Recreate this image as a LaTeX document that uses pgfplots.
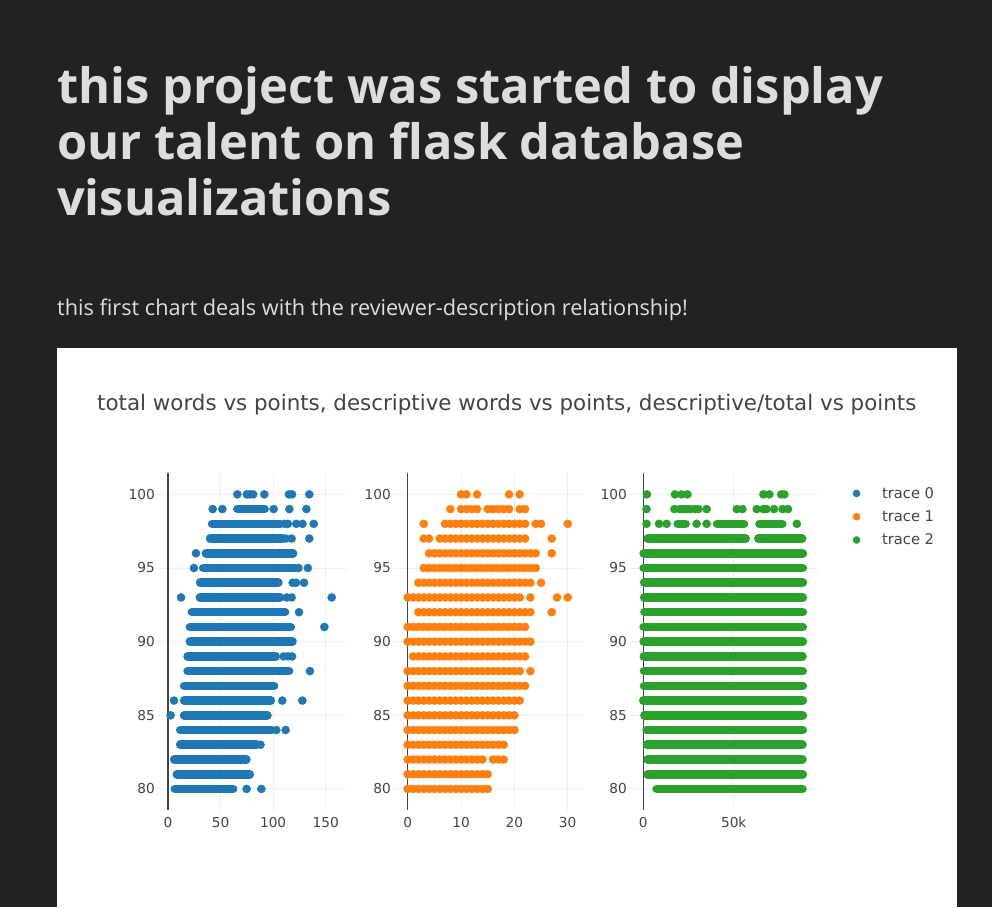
\documentclass[border=0pt]{standalone}
\usepackage{pgfplots}
\pgfplotsset{compat=1.18}
\usepackage{fontspec}
\setmainfont{DejaVu Sans}
\newfontfamily\titlefont{Open Sans}
\definecolor{bg}{HTML}{222222}
\definecolor{fg}{HTML}{DDDDDD}
\definecolor{txt}{HTML}{444444}
\definecolor{gridc}{HTML}{EEEEEE}
\definecolor{c0}{HTML}{1F77B4}
\definecolor{c1}{HTML}{FF7F0E}
\definecolor{c2}{HTML}{2CA02C}
\pgfplotsset{
  sub/.style={scale only axis, width=189pt, height=337pt, anchor=south west,
    ymin=78.57, ymax=101.45, ytick={80,85,90,95,100},
    axis line style={draw=none}, major tick length=0pt,
    grid=major, major grid style={gridc, line width=1pt},
    tick label style={font=\fontsize{13.7}{16}\selectfont, text=txt},
    yticklabel style={inner sep=0pt, xshift=-2pt},
    xticklabel style={inner sep=0pt, yshift=-7pt},
    /pgf/number format/assume math mode=true,
    scaled x ticks=false,
    unbounded coords=jump,
    extra x ticks={0},
    extra x tick labels={0},
  },
  band/.style={forget plot, line width=8.6pt, line cap=round, mark=none},
  pts/.style={forget plot, only marks, mark=*, mark size=4.1pt, mark options={line width=0.3pt}},
}
\begin{document}
\begin{tikzpicture}
\useasboundingbox (0pt,0pt) rectangle (992pt,-907pt);
\fill[bg] (0pt,0pt) rectangle (992pt,-907pt);
\node[anchor=base west, inner sep=0pt, text=fg, font=\titlefont\bfseries\fontsize{48.8}{56}\selectfont] at (57pt,-103pt) {this project was started to display};
\node[anchor=base west, inner sep=0pt, text=fg, font=\titlefont\bfseries\fontsize{48.8}{56}\selectfont] at (57pt,-159.5pt) {our talent on flask database};
\node[anchor=base west, inner sep=0pt, text=fg, font=\titlefont\bfseries\fontsize{48.8}{56}\selectfont] at (57pt,-215.7pt) {visualizations};
\node[anchor=base west, inner sep=0pt, text=fg, font=\titlefont\fontsize{21.7}{26}\selectfont] at (57pt,-315.7pt) {this first chart deals with the reviewer-description relationship!};
\fill[white] (57pt,-348pt) rectangle (957pt,-907pt);
\node[anchor=base west, inner sep=0pt, text=txt, font=\fontsize{21.4}{25}\selectfont] at (97pt,-410.7pt) {total words vs points, descriptive words vs points, descriptive/total vs points};

% ---------- subplot 1 ----------
\begin{axis}[sub, at={(157pt,-810pt)}, xmin=-10.46, xmax=169.3, xtick={50,100,150},
  extra x tick style={grid=major, major grid style={txt, line width=2pt}}]
\addplot[band, c0] coordinates {
(66,99)(92,99) (nan,nan) (42,98)(107,98) (nan,nan) (40,97)(109,97) (nan,nan) (36,96)(119,96) (nan,nan)
(33.5,95)(121,95) (nan,nan) (30.6,94)(105,94) (nan,nan) (30.3,93)(106.6,93) (nan,nan) (22.7,92)(111.4,92) (nan,nan)
(20.8,91)(116.8,91) (nan,nan) (20.8,90)(118.4,90) (nan,nan) (18.6,89)(102.5,89) (nan,nan) (18.6,88)(115.2,88) (nan,nan)
(15.4,87)(100.9,87) (nan,nan) (15.4,86)(97.8,86) (nan,nan) (15.4,85)(94.6,85) (nan,nan) (11.6,84)(98.7,84) (nan,nan)
(11.6,83)(84.2,83) (nan,nan) (5.9,82)(74.6,82) (nan,nan) (8.4,81)(77.8,81) (nan,nan) (6.5,80)(62,80)
};
\addplot[pts, c0] coordinates {
(66,100)(75,100)(78,100)(81,100)(91.6,100)(115,100)(118,100)(134.4,100)
(42.5,99)(51.7,99)(100.5,99)(115.4,99)(131.6,99)
(111,98)(114,98)(122,98)(128,98)(138.6,98)
(112,97)(117.6,97)(134.4,97)
(26.6,96)
(24.7,95)(124,95)(133,95)
(118.6,94)(121.8,94)(129.4,94)
(12.4,93)(113,93)(117.6,93)(155.7,93)
(124.6,92)
(148.7,91)
(110,89)(114,89)(118,89)
(135,88)
(5.7,86)(108.7,86)(127.8,86)
(2.5,85)
(103,84)(111.9,84)
(88,83)
(74.8,80)(88.8,80)
};
\end{axis}

% ---------- subplot 2 ----------
\begin{axis}[sub, at={(393pt,-810pt)}, xmin=-2.76, xmax=32.68, xtick={10,20,30},
  extra x tick style={grid=major, major grid style={txt, line width=1pt}}]
\addplot[pts, c1] coordinates {
(10,100)(11,100)(13,100)(19,100)(21,100)
(8,99)(10,99)(11,99)(12,99)(13,99)(15,99)(16,99)(17,99)(18,99)(19,99)(21,99)(22,99)
(3,98)(7,98)(8,98)(9,98)(10,98)(11,98)(12,98)(13,98)(14,98)(15,98)(16,98)(17,98)(18,98)(19,98)(20,98)(21,98)(22,98)(24,98)(25,98)(30,98)
(3,97)(4,97)(6,97)(7,97)(8,97)(9,97)(10,97)(11,97)(12,97)(13,97)(14,97)(15,97)(16,97)(17,97)(18,97)(19,97)(20,97)(21,97)(22,97)(27,97)
(4,96)(5,96)(6,96)(7,96)(8,96)(9,96)(10,96)(11,96)(12,96)(13,96)(14,96)(15,96)(16,96)(17,96)(18,96)(19,96)(20,96)(21,96)(22,96)(23,96)(24,96)(27,96)
(3,95)(4,95)(5,95)(6,95)(7,95)(8,95)(9,95)(10,95)(11,95)(12,95)(13,95)(14,95)(15,95)(16,95)(17,95)(18,95)(19,95)(20,95)(21,95)(22,95)(23,95)(24,95)
(2,94)(3,94)(4,94)(5,94)(6,94)(7,94)(8,94)(9,94)(10,94)(11,94)(12,94)(13,94)(14,94)(15,94)(16,94)(17,94)(18,94)(19,94)(20,94)(21,94)(22,94)(23,94)(25,94)
(0,93)(1,93)(2,93)(3,93)(4,93)(5,93)(6,93)(7,93)(8,93)(9,93)(10,93)(11,93)(12,93)(13,93)(14,93)(15,93)(16,93)(17,93)(18,93)(19,93)(20,93)(21,93)(23,93)(28,93)(30,93)
(2,92)(3,92)(4,92)(5,92)(6,92)(7,92)(8,92)(9,92)(10,92)(11,92)(12,92)(13,92)(14,92)(15,92)(16,92)(17,92)(18,92)(19,92)(20,92)(21,92)(22,92)(23,92)(27,92)
(0,91)(1,91)(2,91)(3,91)(4,91)(5,91)(6,91)(7,91)(8,91)(9,91)(10,91)(11,91)(12,91)(13,91)(14,91)(15,91)(16,91)(17,91)(18,91)(19,91)(20,91)(21,91)(22,91)
(0,90)(1,90)(2,90)(3,90)(4,90)(5,90)(6,90)(7,90)(8,90)(9,90)(10,90)(11,90)(12,90)(13,90)(14,90)(15,90)(16,90)(17,90)(18,90)(19,90)(20,90)(21,90)(22,90)(23,90)
(1,89)(2,89)(3,89)(4,89)(5,89)(6,89)(7,89)(8,89)(9,89)(10,89)(11,89)(12,89)(13,89)(14,89)(15,89)(16,89)(17,89)(18,89)(19,89)(20,89)(21,89)(22,89)
(0,88)(1,88)(2,88)(3,88)(4,88)(5,88)(6,88)(7,88)(8,88)(9,88)(10,88)(11,88)(12,88)(13,88)(14,88)(15,88)(16,88)(17,88)(18,88)(19,88)(20,88)(21,88)(23,88)
(0,87)(1,87)(2,87)(3,87)(4,87)(5,87)(6,87)(7,87)(8,87)(9,87)(10,87)(11,87)(12,87)(13,87)(14,87)(15,87)(16,87)(17,87)(18,87)(19,87)(20,87)(21,87)(22,87)
(0,86)(1,86)(2,86)(3,86)(4,86)(5,86)(6,86)(7,86)(8,86)(9,86)(10,86)(11,86)(12,86)(13,86)(14,86)(15,86)(16,86)(17,86)(18,86)(19,86)(20,86)(21,86)
(0,85)(1,85)(2,85)(3,85)(4,85)(5,85)(6,85)(7,85)(8,85)(9,85)(10,85)(11,85)(12,85)(13,85)(14,85)(15,85)(16,85)(17,85)(18,85)(19,85)(20,85)
(0,84)(1,84)(2,84)(3,84)(4,84)(5,84)(6,84)(7,84)(8,84)(9,84)(10,84)(11,84)(12,84)(13,84)(14,84)(15,84)(16,84)(17,84)(18,84)(19,84)(20,84)
(0,83)(1,83)(2,83)(3,83)(4,83)(5,83)(6,83)(7,83)(8,83)(9,83)(10,83)(11,83)(12,83)(13,83)(14,83)(15,83)(16,83)(17,83)(18,83)
(0,82)(1,82)(2,82)(3,82)(4,82)(5,82)(6,82)(7,82)(8,82)(9,82)(10,82)(11,82)(12,82)(13,82)(14,82)(16,82)(17,82)(18,82)
(0,81)(1,81)(2,81)(3,81)(4,81)(5,81)(6,81)(7,81)(8,81)(9,81)(10,81)(11,81)(12,81)(13,81)(14,81)(15,81)
(0,80)(1,80)(2,80)(3,80)(4,80)(5,80)(6,80)(7,80)(8,80)(9,80)(10,80)(11,80)(12,80)(13,80)(14,80)(15,80)
};
\end{axis}

% ---------- subplot 3 ----------
\begin{axis}[sub, at={(629pt,-810pt)}, xmin=-7900, xmax=96600, xtick={50000}, xticklabels={50k},
  extra x tick style={grid=major, major grid style={txt, line width=1pt}},
  legend style={at={(axis description cs:1,1)}, anchor=north west, xshift=34.7pt, yshift=-12pt,
    draw=none, fill=none, font=\fontsize{14.7}{17}\selectfont, text=txt, inner sep=0pt, row sep=7pt,
    /tikz/every odd column/.append style={column sep=20pt}},
  legend cell align=left,
  legend image code/.code={\draw[#1] plot coordinates {(0pt,0pt)};}]
\addplot[band, c2] coordinates {
(19000,98)(23400,98) (nan,nan) (40800,98)(55700,98) (nan,nan) (64200,98)(76900,98) (nan,nan)
(2400,97)(56600,97) (nan,nan) (63600,97)(87800,97) (nan,nan)
(200,96)(88200,96) (nan,nan) (200,95)(88200,95) (nan,nan) (500,94)(88200,94) (nan,nan) (500,93)(88200,93) (nan,nan)
(600,92)(88200,92) (nan,nan) (200,91)(88200,91) (nan,nan) (200,90)(88200,90) (nan,nan) (300,89)(88000,89) (nan,nan)
(400,88)(88200,88) (nan,nan) (400,87)(88200,87) (nan,nan) (0,86)(88200,86) (nan,nan) (600,85)(88200,85) (nan,nan)
(1800,84)(88200,84) (nan,nan) (2000,83)(88000,83) (nan,nan) (2400,82)(88000,82) (nan,nan) (2400,81)(88200,81) (nan,nan)
(7400,80)(88000,80)
};
\addplot[pts, c2] coordinates {
(2000,100)(17500,100)(21200,100)(24400,100)(66400,100)(69700,100)(76200,100)(78000,100)
(1800,99)(17200,99)(20300,99)(22200,99)(24000,99)(25800,99)(28600,99)(30500,99)(35000,99)(51700,99)(54800,99)(62700,99)(66400,99)(68100,99)(72300,99)(77000,99)(80000,99)
(1800,98)(8700,98)(12900,98)(29500,98)(35000,98)(84900,98)
};
\addlegendimage{only marks, mark=*, mark size=3.6pt, c0, mark options={line width=0.3pt}}
\addlegendentry{trace 0}
\addlegendimage{only marks, mark=*, mark size=3.6pt, c1, mark options={line width=0.3pt}}
\addlegendentry{trace 1}
\addlegendimage{only marks, mark=*, mark size=3.6pt, c2, mark options={line width=0.3pt}}
\addlegendentry{trace 2}
\end{axis}
\end{tikzpicture}
\end{document}
